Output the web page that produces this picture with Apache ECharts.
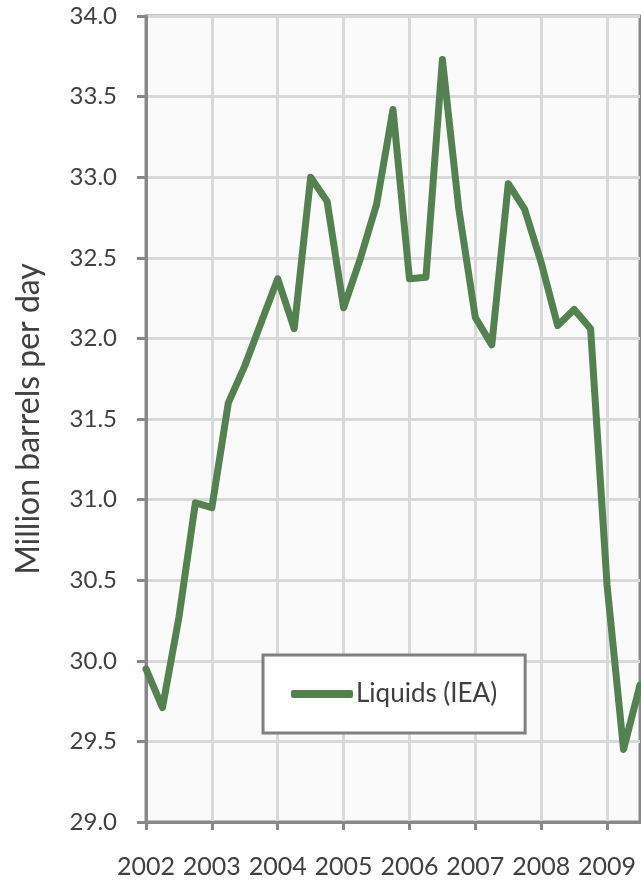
<!DOCTYPE html>
<html>
<head>
<meta charset="utf-8">
<script src="https://cdn.jsdelivr.net/npm/echarts@6/dist/echarts.min.js"></script>
<style>
  html, body { margin: 0; padding: 0; background: #ffffff; }
  #chart { width: 641px; height: 881px; }
</style>
</head>
<body>
<div id="chart"></div>
<script>
// Quarterly periods, 2002 Q1 through 2009 Q3
const quarters = [
  '2002 Q1','2002 Q2','2002 Q3','2002 Q4',
  '2003 Q1','2003 Q2','2003 Q3','2003 Q4',
  '2004 Q1','2004 Q2','2004 Q3','2004 Q4',
  '2005 Q1','2005 Q2','2005 Q3','2005 Q4',
  '2006 Q1','2006 Q2','2006 Q3','2006 Q4',
  '2007 Q1','2007 Q2','2007 Q3','2007 Q4',
  '2008 Q1','2008 Q2','2008 Q3','2008 Q4',
  '2009 Q1','2009 Q2','2009 Q3'
];

// Liquids production, million barrels per day (IEA)
const liquidsIEA = [
  29.95, 29.71, 30.27, 30.98,
  30.95, 31.60, 31.83, 32.10,
  32.37, 32.06, 33.00, 32.85,
  32.19, 32.49, 32.83, 33.42,
  32.37, 32.38, 33.73, 32.80,
  32.13, 31.96, 32.96, 32.80,
  32.47, 32.08, 32.18, 32.06,
  30.47, 29.45, 29.85
];

const yTicks = { min: 29.0, max: 34.0, step: 0.5 };

const fontFamily = 'Lato, "Open Sans", sans-serif';
const isYearStart = (idx) => idx % 4 === 0;

const chart = echarts.init(document.getElementById('chart'), null, { renderer: 'canvas' });

chart.setOption({
  animation: false,
  backgroundColor: '#ffffff',
  textStyle: { fontFamily: fontFamily },
  grid: {
    left: 146, top: 16, right: 1, bottom: 59,
    show: true,
    backgroundColor: '#fafafa',
    borderColor: '#888888',
    borderWidth: 3
  },
  legend: {
    left: 263, top: 655,
    data: ['Liquids (IEA)'],
    icon: 'roundRect',
    itemWidth: 62, itemHeight: 8, itemGap: 0,
    backgroundColor: '#ffffff',
    borderColor: '#808080', borderWidth: 3,
    padding: [26, 28, 26, 28],
    textStyle: { fontFamily: fontFamily, fontSize: 26, color: '#404040', padding: [0, 0, 0, -2] }
  },
  xAxis: {
    type: 'category',
    data: quarters,
    boundaryGap: false,
    axisLine: { lineStyle: { color: '#888888', width: 3 } },
    axisTick: { show: true, length: 8, interval: (i) => isYearStart(i), lineStyle: { color: '#888888', width: 3 } },
    axisLabel: {
      interval: (i) => isYearStart(i),
      formatter: (v) => v.slice(0, 4),
      margin: 32, fontSize: 25, color: '#404040', fontFamily: fontFamily
    },
    splitLine: { show: true, interval: (i) => isYearStart(i), lineStyle: { color: '#d9d9d9', width: 3 } }
  },
  yAxis: {
    type: 'value',
    min: yTicks.min, max: yTicks.max, interval: yTicks.step,
    name: 'Million barrels per day',
    nameLocation: 'middle',
    nameGap: 101,
    nameTextStyle: { fontSize: 32, color: '#404040', fontFamily: fontFamily },
    axisLine: { show: true, lineStyle: { color: '#888888', width: 3 } },
    axisTick: { show: true, length: 9, lineStyle: { color: '#888888', width: 3 } },
    axisLabel: { formatter: (v) => v.toFixed(1), margin: 29, fontSize: 24, color: '#404040', fontFamily: fontFamily },
    splitLine: { show: true, lineStyle: { color: '#d9d9d9', width: 3 } }
  },
  series: [{
    name: 'Liquids (IEA)',
    type: 'line',
    data: liquidsIEA,
    showSymbol: false,
    symbol: 'none',
    lineStyle: { color: '#548150', width: 7, cap: 'round', join: 'round' },
    itemStyle: { color: '#548150' }
  }]
});
</script>
</body>
</html>
